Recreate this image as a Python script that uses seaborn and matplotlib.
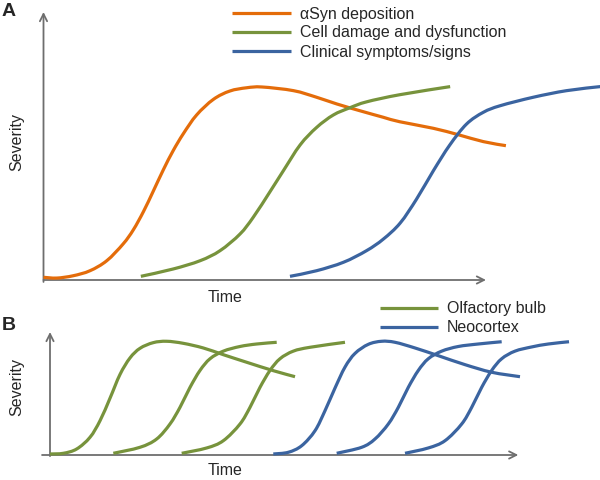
import numpy as np
import pandas as pd
import matplotlib
matplotlib.use("Agg")
import matplotlib.pyplot as plt
from matplotlib.lines import Line2D
from matplotlib.path import Path
from matplotlib.patches import PathPatch
import seaborn as sns

# ---------------- data (time / severity, arbitrary units) ----------------
# Panel A
syn_t = [0, 3.0, 6.7, 10.5, 14.3, 18.0, 20.3, 22.6, 24.8, 27.1, 29.3, 31.6, 34.6, 38.4, 42.1,
         45.9, 49.4, 56.5, 61.7, 66.3, 71.5, 76.8, 80.5, 88.1, 93.7, 99.4, 104.5]
syn_s = [1.4, 1.0, 2.2, 4.8, 10.0, 18.7, 26.0, 35.5, 46.0, 57.2, 67.0, 75.8, 85.5, 93.6, 97.9,
         99.6, 100.0, 98.1, 94.7, 91.2, 87.7, 84.3, 82.0, 78.6, 75.3, 71.7, 69.6]
cell_t = [22.0, 29.3, 35.4, 39.9, 44.4, 47.4, 51.2, 54.2, 58.0, 61.7, 65.5, 69.3, 73.0, 80.5, 91.9]
cell_s = [1.9, 5.7, 10.0, 15.2, 23.8, 32.5, 45.8, 56.6, 70.0, 79.0, 85.5, 89.3, 92.3, 96.0, 100.2]
clin_t = [55.7, 61.7, 67.8, 73.0, 76.8, 80.6, 84.3, 88.1, 91.8, 95.6, 99.4, 103.2, 110.7, 118.2, 125.8]
clin_s = [1.9, 4.8, 9.2, 15.2, 21.2, 29.5, 41.9, 56.6, 69.9, 80.8, 86.9, 90.3, 94.7, 98.1, 100.2]

# Panel B
ob1_t = [0, 2.84, 5.70, 8.54, 10.68, 12.81, 14.95, 17.08, 19.22, 22.06, 24.91, 28.46, 32.73,
         37.00, 42.00, 47.68, 52.32]
ob1_s = [0.9, 1.5, 5.3, 15.6, 30.2, 50.0, 71.0, 85.5, 94.0, 99.0, 100.2, 98.4, 94.3, 88.4,
         81.7, 74.3, 69.0]
ob2_t = [13.52, 19.22, 22.78, 25.62, 27.76, 29.90, 32.03, 34.17, 37.01, 40.57, 44.14, 48.41]
ob2_s = [1.5, 6.8, 14.1, 27.3, 42.0, 59.6, 74.5, 84.8, 91.5, 95.6, 97.8, 99.3]
ob3_t = [28.12, 33.46, 37.01, 40.57, 42.71, 44.84, 46.98, 49.11, 51.95, 55.52, 62.99]
ob3_s = [1.5, 6.2, 12.6, 27.3, 42.0, 59.6, 74.5, 84.8, 91.5, 94.9, 99.3]
nc1_t = [47.68, 50.89, 53.75, 56.59, 58.72, 60.86, 63.00, 65.13, 67.97, 70.83, 73.67, 77.94,
         82.92, 88.62, 94.32, 100.36]
nc1_s = [0.9, 2.4, 8.2, 21.4, 39.0, 59.0, 77.5, 89.5, 97.5, 100.2, 99.3, 94.3, 87.5, 79.6,
         72.9, 69.0]
nc2_t = [61.22, 66.56, 69.40, 72.24, 74.38, 76.51, 78.65, 80.78, 83.64, 87.19, 91.46, 96.45]
nc2_s = [1.5, 6.8, 14.1, 27.3, 42.0, 59.6, 74.5, 84.8, 91.5, 95.6, 97.8, 99.8]
nc3_t = [75.81, 80.78, 84.35, 87.91, 90.05, 92.18, 94.32, 96.45, 99.29, 102.86, 106.41, 110.83]
nc3_s = [1.5, 6.2, 12.6, 27.3, 42.0, 59.6, 74.5, 84.8, 91.5, 95.2, 97.8, 99.8]

labels_a = ["\u03b1Syn deposition", "Cell damage and dysfunction", "Clinical symptoms/signs"]
labels_b = ["Olfactory bulb", "Neocortex"]
colors = {"orange": "#E46C0A", "green": "#77933C", "blue": "#3B64A0"}

# ---------------- tables ----------------
def frame(t, s, series, unit):
    return pd.DataFrame({"t": t, "s": s, "series": series, "unit": unit})

df_a = pd.concat([
    frame(syn_t, syn_s, labels_a[0], "a1"),
    frame(cell_t, cell_s, labels_a[1], "a2"),
    frame(clin_t, clin_s, labels_a[2], "a3"),
], ignore_index=True)
df_b = pd.concat([
    frame(ob1_t, ob1_s, labels_b[0], "b1"),
    frame(ob2_t, ob2_s, labels_b[0], "b2"),
    frame(ob3_t, ob3_s, labels_b[0], "b3"),
    frame(nc1_t, nc1_s, labels_b[1], "b4"),
    frame(nc2_t, nc2_s, labels_b[1], "b5"),
    frame(nc3_t, nc3_s, labels_b[1], "b6"),
], ignore_index=True)

pal_a = {labels_a[0]: colors["orange"], labels_a[1]: colors["green"], labels_a[2]: colors["blue"]}
pal_b = {labels_b[0]: colors["green"], labels_b[1]: colors["blue"]}

# ---------------- figure ----------------
sns.set_theme(style="white")
plt.rcParams["font.family"] = ["Liberation Sans", "DejaVu Sans"]

W, H = 600, 481
fig = plt.figure(figsize=(6, 4.81), dpi=100)


def px_axes(left, right, top, bottom):
    return fig.add_axes([left / W, 1 - bottom / H, (right - left) / W, (bottom - top) / H])


LW = 2.3
AX_COL = "#6e6e6e"
FS = 11.5

# Panel A axes: t=0 at x=43.5 px, t=100 at 486 px; s=0 at y=281 px, s=100 at 88 px
axA = px_axes(43.5, 600, 13, 281)
axA.set_xlim(0, (600 - 43.5) / 4.425)
axA.set_ylim(0, (281 - 13) / 1.93)
sns.lineplot(data=df_a, x="t", y="s", hue="series", units="unit", estimator=None,
             palette=pal_a, sort=False, lw=LW, legend=False, ax=axA)

# Panel B axes
axB = px_axes(50, 600, 333, 456)
axB.set_xlim(0, 550 / 4.683)
axB.set_ylim(0, 123 / 1.135)
sns.lineplot(data=df_b, x="t", y="s", hue="series", units="unit", estimator=None,
             palette=pal_b, sort=False, lw=LW, legend=False, ax=axB)


def smooth_line(ax, ln):
    """Render a seaborn line as a smooth curve (Catmull-Rom segments drawn as cubic Beziers)."""
    xy = ax.transData.transform(np.column_stack(ln.get_data()))  # display space
    n = len(xy)
    verts = [xy[0]]
    codes = [Path.MOVETO]
    for i in range(n - 1):
        p0 = xy[i - 1] if i > 0 else xy[i]
        p1 = xy[i]
        p2 = xy[i + 1]
        p3 = xy[i + 2] if i + 2 < n else xy[i + 1]
        c1 = p1 + (p2 - p0) / 6.0
        c2 = p2 - (p3 - p1) / 6.0
        verts += [c1, c2, p2]
        codes += [Path.CURVE4] * 3
    patch = PathPatch(Path(verts, codes), facecolor="none", edgecolor=ln.get_color(),
                      lw=ln.get_linewidth(), capstyle="butt", joinstyle="round",
                      transform=None, clip_on=False, zorder=3)
    fig.add_artist(patch)
    ln.set_visible(False)


for ax in (axA, axB):
    ax.set_axis_off()
    for ln in list(ax.get_lines()):
        smooth_line(ax, ln)

arrow_kw = dict(arrowstyle="->", color=AX_COL, lw=1.3, shrinkA=0, shrinkB=0, mutation_scale=13)
# A arrows
axA.annotate("", xy=(100, 0), xytext=(0, 0), arrowprops=arrow_kw, annotation_clip=False, zorder=1)
axA.annotate("", xy=(0, axA.get_ylim()[1]), xytext=(0, -1), arrowprops=arrow_kw,
             annotation_clip=False, zorder=1)
# B arrows
axB.annotate("", xy=(100, 0), xytext=(-1.7, 0), arrowprops=arrow_kw, annotation_clip=False, zorder=1)
axB.annotate("", xy=(0, axB.get_ylim()[1]), xytext=(0, -1), arrowprops=arrow_kw,
             annotation_clip=False, zorder=1)

# ---------------- text ----------------
def ftext(x, y, s, **kw):
    fig.text(x / W, 1 - y / H, s, **kw)

ftext(2, 12, "A", fontsize=14, fontweight="bold", va="center", ha="left")
ftext(2, 326, "B", fontsize=14, fontweight="bold", va="center", ha="left")
ftext(17, 142, "Severity", fontsize=FS, rotation=90, ha="center", va="center")
ftext(17, 387, "Severity", fontsize=FS, rotation=90, ha="center", va="center")
ftext(225, 298, "Time", fontsize=FS, ha="center", va="center")
ftext(225, 471, "Time", fontsize=FS, ha="center", va="center")

# legends
def legend_entry(x0, x1, y, color, label):
    fig.add_artist(Line2D([x0 / W, x1 / W], [1 - y / H, 1 - y / H], color=color, lw=LW,
                          transform=fig.transFigure, solid_capstyle="butt"))
    ftext(x1 + 9, y, label, fontsize=FS, ha="left", va="center")

for i, lab in enumerate(labels_a):
    legend_entry(232, 291, 14 + i * 19, pal_a[lab], lab)
for i, lab in enumerate(labels_b):
    legend_entry(380, 438, 308.5 + i * 19, pal_b[lab], lab)

fig.savefig("out.png", dpi=100)
